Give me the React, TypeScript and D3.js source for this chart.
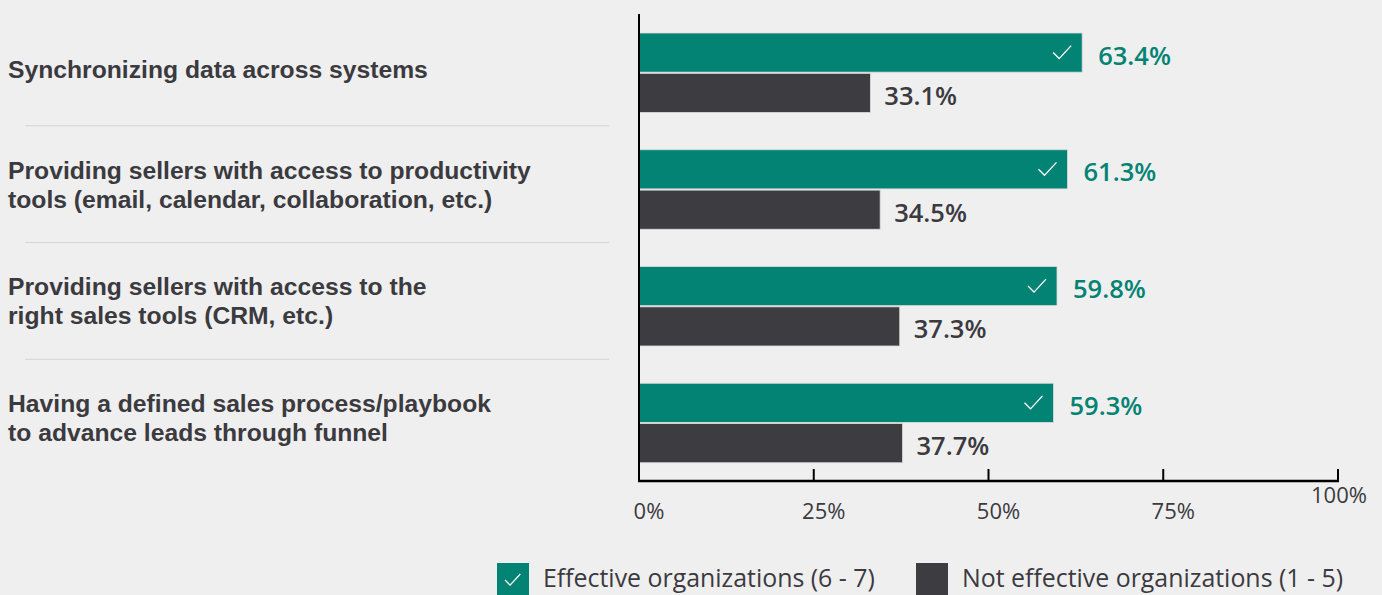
import React from "react";
import * as d3 from "d3";

const categories: string[][] = [
  ["Synchronizing data across systems"],
  ["Providing sellers with access to productivity", "tools (email, calendar, collaboration, etc.)"],
  ["Providing sellers with access to the", "right sales tools (CRM, etc.)"],
  ["Having a defined sales process/playbook", "to advance leads through funnel"],
];
const effective: number[] = [63.4, 61.3, 59.8, 59.3];
const notEffective: number[] = [33.1, 34.5, 37.3, 37.7];
const ticks: number[] = [0, 25, 50, 75, 100];
const seriesNames = ["Effective organizations (6 - 7)", "Not effective organizations (1 - 5)"];

const W = 1382;
const H = 595;
const GREEN = "#038373";
const DARK = "#3d3c41";
const TEXT = "#3b3a3f";
const FONT = "'Open Sans', 'Noto Sans', sans-serif";
const CAT_FONT = "'Liberation Sans', Arial, sans-serif";

function Check({ x, y, s = 1 }: { x: number; y: number; s?: number }) {
  const p = `M${x} ${y}L${x + 6 * s} ${y + 6 * s}L${x + 18 * s} ${y - 7 * s}`;
  return <path d={p} fill="none" stroke="#fff" strokeWidth={1.3} />;
}

export default function App() {
  if (typeof document !== "undefined") {
    document.body.style.margin = "0";
    document.body.style.background = "#efefef";
  }
  const x = d3.scaleLinear().domain([0, 100]).range([639, 1338]);
  const keys = categories.map((_, i) => String(i));
  const y = d3.scaleBand<string>().domain(keys).range([14, 481]).padding(0);
  const sub = d3.scaleBand<string>().domain(["e", "n"]).range([19, 98.5]).paddingInner(0.03);
  const step = y.step();

  return (
    <svg width={W} height={H} style={{ display: "block", background: "#efefef" }} fontFamily={FONT}>
      <rect x={0} y={0} width={W} height={H} fill="#efefef" />
      {keys.slice(0, -1).map((k) => (
        <line key={"sep" + k} x1={25} x2={609} y1={(y(k) as number) + step - 5} y2={(y(k) as number) + step - 5} stroke="#d4d4d4" strokeWidth={1} />
      ))}
      {categories.map((lines, i) => {
        const cy = (y(keys[i]) as number) + step / 2;
        const lh = 29;
        const start = lines.length === 1 ? cy - 2.5 : cy - 4.5 - ((lines.length - 1) * lh) / 2;
        return (
          <text key={"cat" + i} fill={TEXT} fontSize={24.7} fontWeight={700} fontFamily={CAT_FONT}>
            {lines.map((l, j) => (
              <tspan key={j} x={8} y={start + j * lh} dominantBaseline="central">
                {l}
              </tspan>
            ))}
          </text>
        );
      })}
      {keys.map((k, i) => {
        const y0 = y(k) as number;
        const ye = y0 + (sub("e") as number);
        const yn = y0 + (sub("n") as number);
        const bh = sub.bandwidth();
        const xe = x(effective[i]);
        const xn = x(notEffective[i]);
        return (
          <g key={"bar" + k}>
            <rect x={x(0)} y={ye} width={xe - x(0)} height={bh} fill={GREEN} stroke="#dcdcdc" strokeWidth={0.8} />
            <rect x={x(0)} y={yn} width={xn - x(0)} height={bh} fill={DARK} stroke="#dcdcdc" strokeWidth={0.8} />
            <Check x={xe - 29} y={ye + bh / 2} />
            <text x={xe + 16} y={ye + bh / 2 + 2} dominantBaseline="central" fill={GREEN} fontSize={25.5} fontWeight={600}>
              {effective[i].toFixed(1)}%
            </text>
            <text x={xn + 14} y={yn + bh / 2 + 2} dominantBaseline="central" fill={TEXT} fontSize={25.5} fontWeight={600}>
              {notEffective[i].toFixed(1)}%
            </text>
          </g>
        );
      })}
      <line x1={x(0)} x2={x(0)} y1={14} y2={482} stroke="#000" strokeWidth={2} />
      <line x1={x(0) - 1} x2={x(100) + 1} y1={481} y2={481} stroke="#000" strokeWidth={2.5} />
      {ticks.map((t) => (
        <g key={"t" + t}>
          <line x1={x(t)} x2={x(t)} y1={469} y2={481} stroke="#000" strokeWidth={2} />
          <text
            x={t === 100 ? x(t) + 1 : x(t) + 10}
            y={t === 100 ? 494 : 510}
            textAnchor="middle"
            dominantBaseline="central"
            fill={TEXT}
            fontSize={22}
          >
            {t}%
          </text>
        </g>
      ))}
      <rect x={497} y={563} width={32} height={32} fill={GREEN} />
      <Check x={505} y={580} s={0.85} />
      <text x={543} y={577} dominantBaseline="central" fill={TEXT} fontSize={24.9}>
        {seriesNames[0]}
      </text>
      <rect x={916} y={563} width={32} height={32} fill={DARK} />
      <text x={962} y={577} dominantBaseline="central" fill={TEXT} fontSize={24.9}>
        {seriesNames[1]}
      </text>
    </svg>
  );
}
